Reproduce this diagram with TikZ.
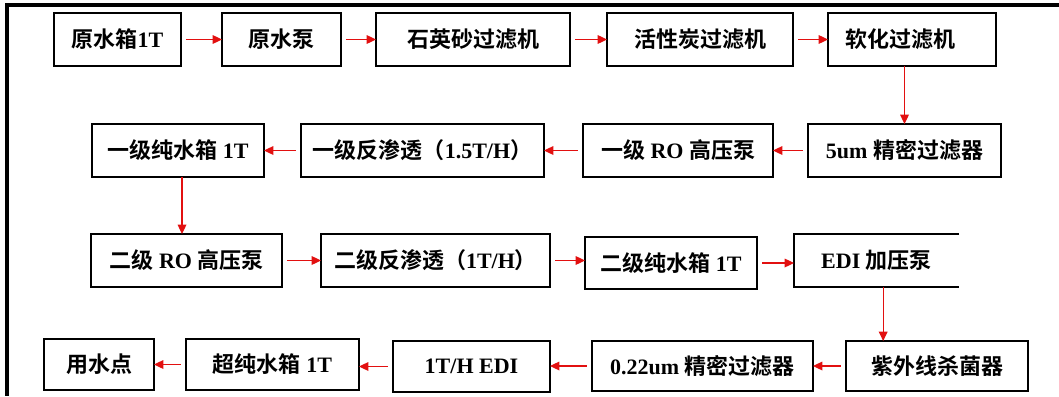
\documentclass[tikz,border=0pt]{standalone}
\usepackage{fontspec}
\setmainfont{Liberation Serif}
\newfontfamily\cjk{Noto Sans CJK SC}[BoldFont={Noto Sans CJK SC Bold}]
\usetikzlibrary{arrows.meta}
\definecolor{arrred}{RGB}{226,16,16}
\newcommand\zh[1]{{\cjk\bfseries #1}}
\begin{document}
\begin{tikzpicture}[x=0.75pt,y=-0.75pt,
  box/.style={draw,line width=1.1pt,inner sep=0pt,outer sep=0pt,
    font=\fontsize{16.5pt}{19pt}\selectfont\bfseries,
    minimum height=53*0.75pt},
  openbox/.style={box,draw=none},
  arr/.style={draw=arrred,line width=0.9pt,
    -{Triangle[length=7pt,width=6.5pt]},shorten <=4pt},
  varr/.style={arr,shorten <=0pt},
  frame/.style={line width=2.6pt}]
\useasboundingbox (0,0) rectangle (1059,396);
% frame (top and left)
\draw[frame] (1059,5) -- (7,5) -- (7,396);
% row 1
\node[box,minimum width=127*0.75pt] (a1) at (117.5,39.5) {\zh{原水箱}1T};
\node[box,minimum width=119*0.75pt] (a2) at (281.5,39.5) {\zh{原水泵}};
\node[box,minimum width=194*0.75pt] (a3) at (473,39.5) {\zh{石英砂过滤机}};
\node[box,minimum width=186*0.75pt] (a4) at (700,39.5) {\zh{活性炭过滤机}};
\node[box,minimum width=168*0.75pt] (a5) at (912,39.5) {\hspace*{-18pt}\zh{软化过滤机}};
% row 2
\node[box,minimum width=172*0.75pt] (b1) at (178,150.5) {\zh{一级纯水箱} 1T};
\node[box,minimum width=243*0.75pt] (b2) at (422.5,150.5) {\zh{一级反渗透（}1.5T/H\zh{）}};
\node[box,minimum width=190*0.75pt] (b3) at (678,150.5) {\zh{一级} RO \zh{高压泵}};
\node[box,minimum width=193*0.75pt] (b4) at (904.5,150.5) {5um \zh{精密过滤器}};
% row 3
\node[box,minimum width=191*0.75pt] (c1) at (186.5,260.5) {\zh{二级} RO \zh{高压泵}};
\node[box,minimum width=229*0.75pt] (c2) at (435.5,260.5) {\zh{二级反渗透（}1T/H\zh{）}};
\node[box,minimum width=172*0.75pt,minimum height=52*0.75pt] (c3) at (671,263) {\zh{二级纯水箱} 1T};
\node[openbox,minimum width=165*0.75pt] (c4) at (876.5,260.5) {EDI \zh{加压泵}};
\draw[line width=1.1pt] (c4.north east) -- (c4.north west) -- (c4.south west) -- (c4.south east);
% row 4
\node[box,minimum width=110*0.75pt,minimum height=51*0.75pt] (d1) at (99,364.5) {\zh{用水点}};
\node[box,minimum width=173*0.75pt,minimum height=51*0.75pt] (d2) at (272.5,364.5) {\zh{超纯水箱} 1T};
\node[box,minimum width=157*0.75pt,minimum height=51*0.75pt] (d3) at (471.5,366.5) {1T/H EDI};
\node[box,minimum width=221*0.75pt,minimum height=50*0.75pt] (d4) at (702.5,366) {0.22um \zh{精密过滤器}};
\node[box,minimum width=182*0.75pt,minimum height=50*0.75pt] (d5) at (937,366) {\zh{紫外线杀菌器}};
% connectors row 1
\draw[arr] (a1.east) -- (a1.east -| a2.west);
\draw[arr] (a2.east) -- (a2.east -| a3.west);
\draw[arr] (a3.east) -- (a3.east -| a4.west);
\draw[arr] (a4.east) -- (a4.east -| a5.west);
\draw[varr] (a5.south -| b4) -- (b4.north);
% row 2
\draw[arr] (b4.west) -- (b4.west -| b3.east);
\draw[arr] (b3.west) -- (b3.west -| b2.east);
\draw[arr] (b2.west) -- (b2.west -| b1.east);
\draw[varr] ([xshift=3pt]b1.south) -- ([xshift=3pt]b1.south |- c1.north);
% row 3
\draw[arr] (c1.east) -- (c1.east -| c2.west);
\draw[arr] (c2.east) -- (c2.east -| c3.west);
\draw[arr] (c3.east) -- (c3.east -| c4.west);
\draw[varr] ([xshift=5pt]c4.south) -- ([xshift=5pt]c4.south |- d5.north);
% row 4
\draw[arr] (d5.west) -- (d5.west -| d4.east);
\draw[arr] (d4.west) -- (d4.west -| d3.east);
\draw[arr] (d3.west) -- (d3.west -| d2.east);
\draw[arr] (d2.west) -- (d2.west -| d1.east);
\end{tikzpicture}
\end{document}
